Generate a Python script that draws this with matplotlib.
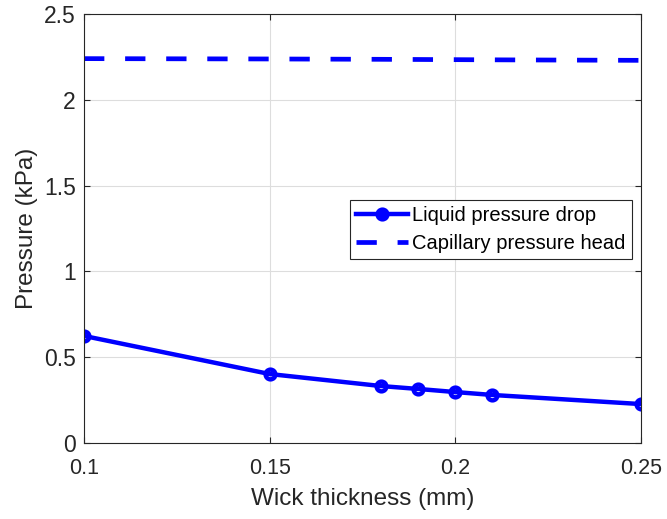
import matplotlib
matplotlib.use("Agg")
import matplotlib.pyplot as plt

thickness = [0.10, 0.15, 0.18, 0.19, 0.20, 0.21, 0.25]
liquid_drop = [0.624, 0.402, 0.332, 0.315, 0.297, 0.280, 0.227]
capillary_head = [2.240, 2.238, 2.236, 2.235, 2.234, 2.233, 2.230]
xticks = [0.1, 0.15, 0.2, 0.25]
xticklabels = ["0.1", "0.15", "0.2", "0.25"]
yticks = [0, 0.5, 1, 1.5, 2, 2.5]
yticklabels = ["0", "0.5", "1", "1.5", "2", "2.5"]

plt.rcParams['font.family'] = ['Liberation Sans', 'DejaVu Sans']

fig = plt.figure(figsize=(6.67, 5.19), dpi=100)
ax = fig.add_axes([0.126, 0.1464, 0.835, 0.8266])

ax.plot(thickness, liquid_drop, color='#0000ff', lw=3.2, marker='o', ms=7,
        mfc='none', mew=3.2, label='Liquid pressure drop')
ax.plot(thickness, capillary_head, color='#0000ff', lw=3.4, dashes=(4.3, 4.4),
        label='Capillary pressure head')

ax.set_xlim(0.1, 0.25)
ax.set_ylim(0, 2.5)
ax.set_xticks(xticks)
ax.set_xticklabels(xticklabels)
ax.set_yticks(yticks)
ax.set_yticklabels(yticklabels)
ax.tick_params(direction='in', top=True, right=True, length=4,
               color='#262626', labelcolor='#262626')
ax.tick_params(axis='x', labelsize=15.5, pad=11)
ax.tick_params(axis='y', labelsize=16.5, pad=6)
ax.grid(True, color='#dddddd', lw=0.8)
ax.set_axisbelow(True)
for s in ax.spines.values():
    s.set_color('#262626')
    s.set_linewidth(0.8)

ax.set_xlabel('Wick thickness (mm)', fontsize=17.5, color='#262626', labelpad=6)
ax.set_ylabel('Pressure (kPa)', fontsize=17.5, color='#262626', labelpad=4)

leg = ax.legend(loc='upper left', bbox_to_anchor=(0.4775, 0.566), fontsize=14.5,
                fancybox=False, edgecolor='#262626', framealpha=1,
                handlelength=2.6, handletextpad=0.2, borderpad=0.3,
                labelspacing=0.45, borderaxespad=0)
leg.get_frame().set_linewidth(0.8)
leg.legend_handles[0].set_markerfacecolor('#0000ff')

fig.savefig('out.png', dpi=100)
